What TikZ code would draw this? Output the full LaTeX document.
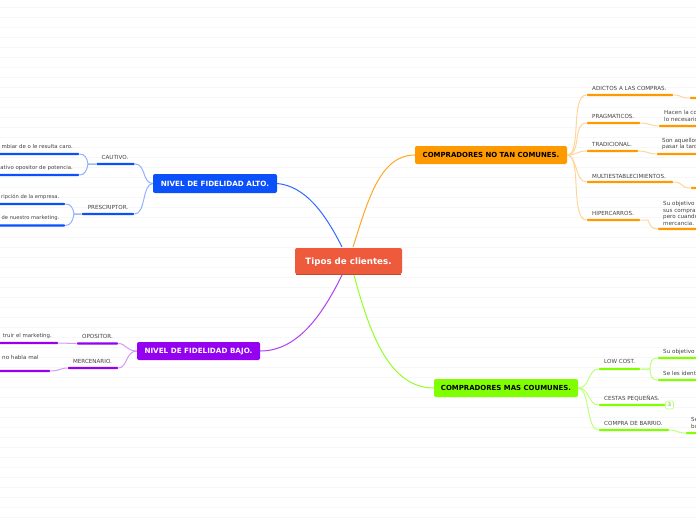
\documentclass[tikz,border=0pt]{standalone}
\usepackage{fontspec}
\setmainfont{DejaVu Sans}
\definecolor{cred}{HTML}{EE5A3C}
\definecolor{credd}{HTML}{C9472E}
\definecolor{cblue}{HTML}{0A50FB}
\definecolor{cpur}{HTML}{9400F0}
\definecolor{cora}{HTML}{FF9900}
\definecolor{cgre}{HTML}{80FF00}
\definecolor{ctxt}{HTML}{444444}
\definecolor{cgrid}{HTML}{F7F7F7}
\tikzset{
 main/.style={rounded corners=2pt,inner sep=0pt,text depth=0pt,font=\fontsize{7.2}{8}\selectfont\bfseries},
 mainb/.style={main,font=\fontsize{6.95}{8}\selectfont\bfseries},
 bar/.style={inner sep=0pt,minimum height=2.2pt,rounded corners=0.8pt},
 lab/.style={font=\fontsize{5.6}{6.6}\selectfont,text=ctxt,inner sep=0pt},
 labs/.style={lab,anchor=east,font=\fontsize{5.4}{6.6}\selectfont},
 labt/.style={lab,anchor=east,font=\fontsize{5.2}{6.6}\selectfont},
 multi/.style={lab,align=left,anchor=west},
 trunk/.style={line width=1pt},
 twig/.style={line width=1pt},
}
\begin{document}
\begin{tikzpicture}[x=1pt,y=-1pt]
\useasboundingbox (0,0) rectangle (696,520);
\clip (0,0) rectangle (696,520);
\fill[white] (0,0) rectangle (696,520);
\foreach \k in {0,...,51} {\draw[cgrid,line width=0.8pt] (0,7.5+10*\k) -- (696,7.5+10*\k);}

% main nodes
\node[main,fill=cred,text=white,minimum width=107pt,minimum height=26pt,font=\fontsize{8.7}{10}\selectfont\bfseries] (root) at (348.5,261) {Tipos de clientes.};
\draw[credd,line width=0.8pt] ([xshift=1pt]root.south west) -- ([xshift=-1pt]root.south east);
\node[main,fill=cblue,text=white,minimum width=124pt,minimum height=19pt] (blue) at (215,183.5) {NIVEL DE FIDELIDAD ALTO.};
\node[main,fill=cpur,text=white,minimum width=123pt,minimum height=18pt] (pur) at (198.5,351) {NIVEL DE FIDELIDAD BAJO.};
\node[mainb,fill=cora,text=black,minimum width=152pt,minimum height=18pt] (ora) at (491,155) {COMPRADORES NO TAN COMUNES.};
\node[mainb,fill=cgre,text=black,minimum width=144pt,minimum height=18pt] (gre) at (506,388) {COMPRADORES MAS COUMUNES.};

\coordinate (rb) at (342,247);
\coordinate (ro) at (353,247);
\coordinate (rp) at (342,275);
\coordinate (rg) at (354,275);
\draw[trunk,cblue!85!white] (rb) .. controls (325,213) and (305,186) .. (blue.east);
\draw[trunk,cora!85!white] (ro) .. controls (368,200) and (380,155) .. (ora.west);
\draw[trunk,cpur!75!white] (rp) .. controls (320,320) and (295,351) .. (pur.east);
\draw[trunk,cgre!85!white] (rg) .. controls (370,335) and (390,388) .. (gre.west);

% blue branch
\begin{scope}[twig,cblue!45!white]
\node[bar,fill=cblue,minimum width=38pt] (cau) at (115.5,164) {};
\node[bar,fill=cblue,minimum width=52pt] (pre) at (108,214) {};
\node[bar,fill=cblue,minimum width=90pt] (cau1) at (34,154) {};
\node[bar,fill=cblue,minimum width=90pt] (cau2) at (34,175) {};
\node[bar,fill=cblue,minimum width=76pt] (pre1) at (27,204) {};
\node[bar,fill=cblue,minimum width=76pt] (pre2) at (27,225.5) {};
\draw (blue.west) .. controls (142,183) and (146,164) .. (cau.east);
\draw (blue.west) .. controls (142,184) and (146,214) .. (pre.east);
\draw (cau.west) -- (88,164) .. controls (87,158) and (85,154) .. (cau1.east);
\draw (cau.west) -- (88,164) .. controls (87,170) and (85,175) .. (cau2.east);
\draw (pre.west) -- (74,214) .. controls (73,208) and (71,204) .. (pre1.east);
\draw (pre.west) -- (74,214) .. controls (73,220) and (71,225.5) .. (pre2.east);
\end{scope}
\node[lab] (lcau) at (115,157) {CAUTIVO.};
\node[lab] (lpre) at (108,207) {PRESCRIPTOR.};
\node[labs] (t1) at (73,146.5) {mbiar de o le resulta caro.};
\node[labs] (t2) at (73,168) {ativo opositor de potencia.};
\node[labt] (t3) at (59.5,197) {ripción de la empresa.};
\node[labt] (t4) at (59.5,218) {de nuestro marketing.};

% purple branch
\begin{scope}[twig,cpur!40!white]
\node[bar,fill=cpur,minimum width=41pt] (opo) at (97.5,343.5) {};
\node[bar,fill=cpur,minimum width=50pt] (mer) at (93,368) {};
\node[bar,fill=cpur,minimum width=78pt] (opo1) at (19,343) {};
\node[bar,fill=cpur,minimum width=70pt] (mer1) at (15,371) {};
\draw (pur.west) .. controls (126,351) and (126,343.5) .. (opo.east);
\draw (pur.west) .. controls (126,351) and (127,368) .. (mer.east);
\draw (opo.west) -- (opo1.east);
\draw (mer.west) .. controls (60,368) and (60,371) .. (mer1.east);
\end{scope}
\node[lab] (lopo) at (97.5,336) {OPOSITOR.};
\node[lab] (lmer) at (92.5,361) {MERCENARIO.};
\node[labs] (t5) at (52,336) {truir el marketing.};
\node[lab,anchor=west] (t6) at (2,357) {no habla mal};

% orange branch
\begin{scope}[twig,cora!40!white]
\node[bar,fill=cora,minimum width=86pt] (adi) at (630,95) {};
\node[bar,fill=cora,minimum width=53pt] (pra) at (613.5,123) {};
\node[bar,fill=cora,minimum width=51pt] (tra) at (612.5,151) {};
\node[bar,fill=cora,minimum width=86pt] (mul) at (630,182) {};
\node[bar,fill=cora,minimum width=53pt] (hip) at (613.5,220) {};
\node[bar,fill=cora,minimum width=16pt] (adi1) at (698,98) {};
\node[bar,fill=cora,minimum width=45pt] (pra1) at (681.5,126) {};
\node[bar,fill=cora,minimum width=47pt] (tra1) at (680.5,154) {};
\node[bar,fill=cora,minimum width=16pt] (mul1) at (699,188) {};
\node[bar,fill=cora,minimum width=46pt] (hip1) at (681,229) {};
\draw (ora.east) .. controls (582,155) and (570,95) .. (adi.west);
\draw (ora.east) .. controls (582,155) and (572,123) .. (pra.west);
\draw (ora.east) .. controls (577,155) and (577,151) .. (tra.west);
\draw (ora.east) .. controls (577,155) and (575,182) .. (mul.west);
\draw (ora.east) .. controls (582,155) and (570,220) .. (hip.west);
\draw (adi.east) .. controls (682,95) and (680,98) .. (adi1.west);
\draw (pra.east) .. controls (650,123) and (650,126) .. (pra1.west);
\draw (tra.east) .. controls (648,151) and (648,154) .. (tra1.west);
\draw (mul.east) .. controls (684,182) and (680,188) .. (mul1.west);
\draw (hip.east) -- (648,220) .. controls (650,226) and (652,229) .. (hip1.west);
\end{scope}
\node[lab,anchor=west] (ladi) at (592,88) {ADICTOS A LAS COMPRAS.};
\node[lab,anchor=west] (lpra) at (592,116) {PRAGMATICOS.};
\node[lab,anchor=west] (ltra) at (592,144) {TRADICIONAL.};
\node[lab,anchor=west] (lmul) at (592,176) {MULTIESTABLECIMIENTOS.};
\node[lab,anchor=west] (lhip) at (592,213) {HIPERCARROS.};
\node[multi] (t7) at (664,116) {Hacen la co\\lo necesario};
\node[multi] (t8) at (662,144) {Son aquellos\\pasar la tard};
\node[multi] (t9) at (663,213.5) {Su objetivo\\sus compras\\pero cuando\\mercancia.};

% green branch
\begin{scope}[twig,cgre!50!white]
\node[bar,fill=cgre,minimum width=41pt] (low) at (619.5,369) {};
\node[bar,fill=cgre,minimum width=66pt] (ces) at (632,405) {};
\node[bar,fill=cgre,minimum width=70pt] (com) at (634,430) {};
\node[bar,fill=cgre,minimum width=46pt] (low1) at (681,358) {};
\node[bar,fill=cgre,minimum width=46pt] (low2) at (681,380) {};
\node[bar,fill=cgre,minimum width=16pt] (com1) at (694,433) {};
\draw (gre.east) .. controls (590,388) and (588,369) .. (low.west);
\draw (gre.east) .. controls (590,388) and (588,405) .. (ces.west);
\draw (gre.east) .. controls (590,388) and (586,430) .. (com.west);
\draw (low.east) -- (650,369) .. controls (650,362) and (652,358) .. (low1.west);
\draw (low.east) -- (650,369) .. controls (650,376) and (652,380) .. (low2.west);
\draw (com.east) .. controls (677,430) and (677,433) .. (com1.west);
\node[draw=cgre!50!white,line width=0.7pt,fill=white,rounded corners=2pt,inner sep=0pt,minimum width=8pt,minimum height=8pt,text=cgre!70!black,font=\fontsize{5}{6}\selectfont] (badge) at (669.5,405) {3};
\end{scope}
\node[lab,anchor=west] (llow) at (604,361.5) {LOW COST.};
\node[lab,anchor=west] (lces) at (604,398) {CESTAS PEQUEÑAS.};
\node[lab,anchor=west] (lcom) at (604,423) {COMPRA DE BARRIO.};
\node[lab,anchor=west] (t10) at (663,352) {Su objetivo};
\node[lab,anchor=west] (t11) at (663,373) {Se les identi};
\node[multi] (t12) at (691,423) {Se\\bu};
\end{tikzpicture}
\end{document}
